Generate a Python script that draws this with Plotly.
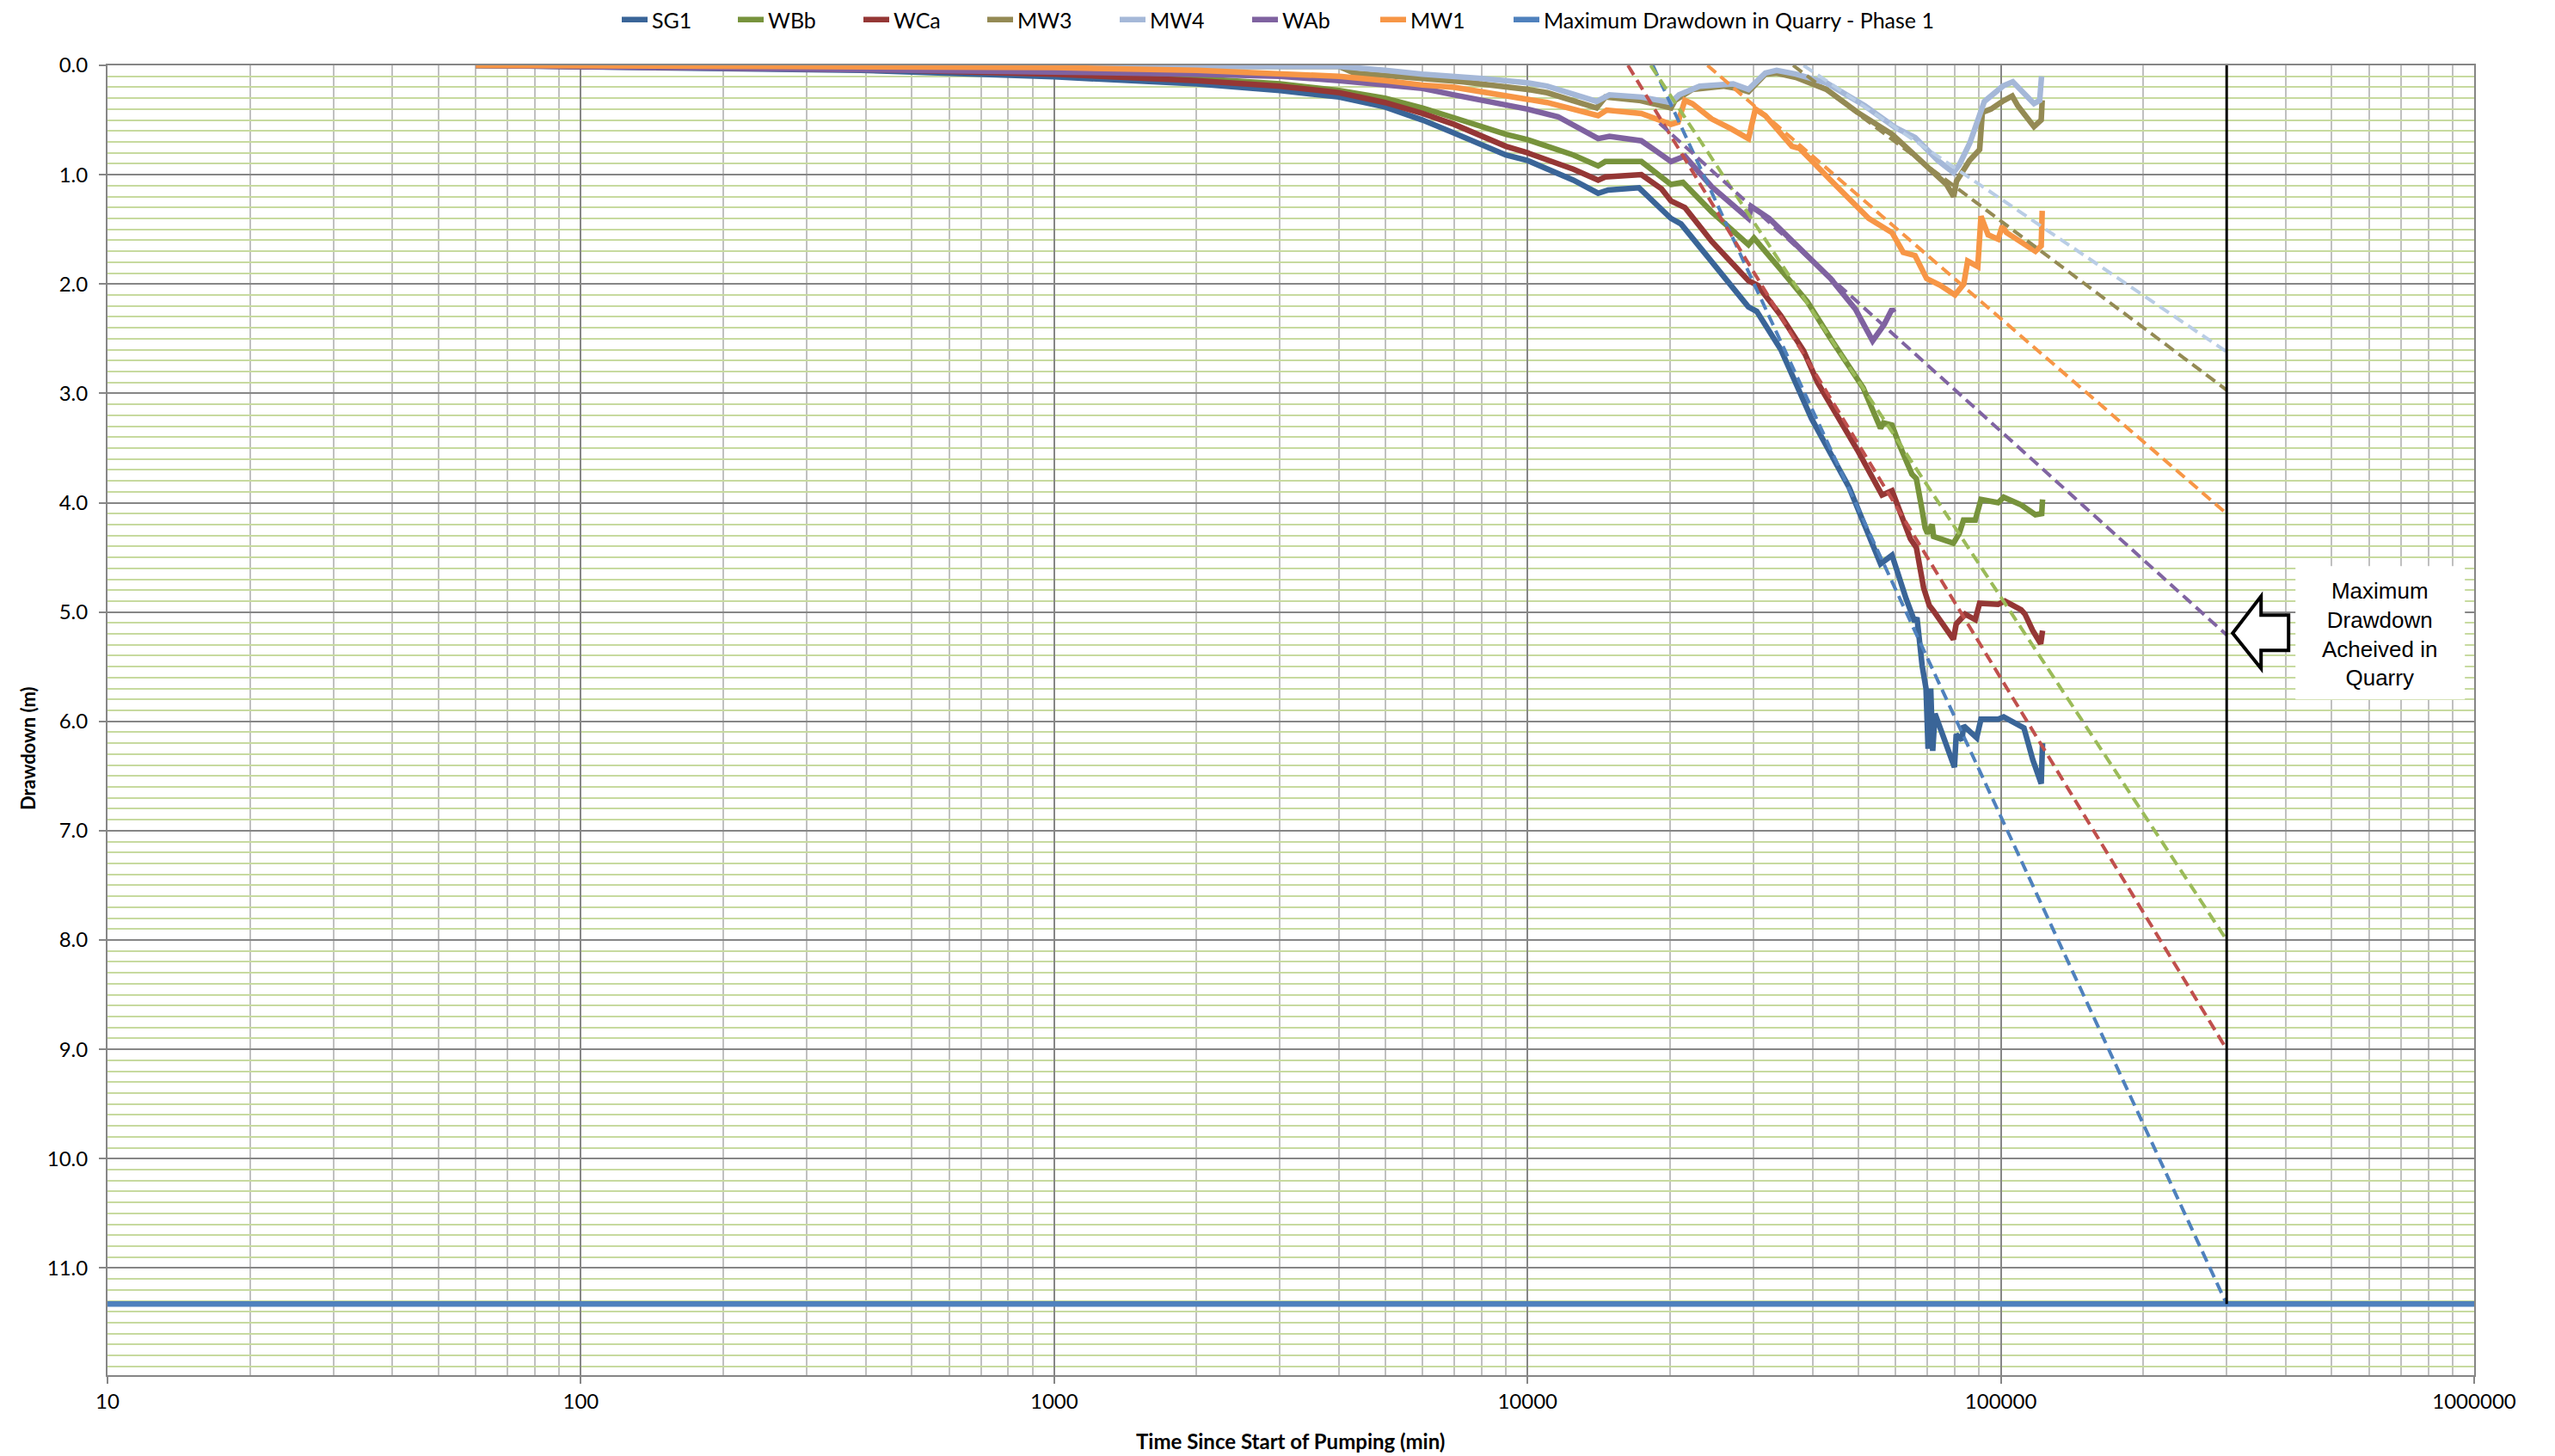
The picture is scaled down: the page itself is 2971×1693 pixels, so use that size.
import numpy as np
import plotly.graph_objects as go

# ---- Drawdown records: time since start of pumping (min) and drawdown (m) ----
SG1_T = [60, 100, 200, 390, 1000, 2000, 3000, 4000, 5000, 6000, 7000, 8000, 9000, 10000,
         11000, 12500, 14100, 14800, 17200, 20100, 21100, 24500, 29300, 30500, 34300, 39800,
         47800, 55700, 58900, 63100, 65800, 66500, 68200, 69500, 70200, 71100, 71800, 72600,
         79800, 80500, 82800, 83400, 88900, 90800, 98700, 101400, 111900, 116800, 121700, 122500]
SG1_D = [0.00, 0.01, 0.03, 0.045, 0.105, 0.17, 0.23, 0.29, 0.38, 0.50, 0.62, 0.73, 0.82, 0.87,
         0.95, 1.05, 1.17, 1.14, 1.12, 1.40, 1.45, 1.79, 2.21, 2.25, 2.60, 3.23,
         3.86, 4.56, 4.48, 4.88, 5.09, 5.05, 5.49, 5.70, 6.25, 5.70, 6.27, 5.93,
         6.42, 6.12, 6.17, 6.04, 6.15, 5.98, 5.98, 5.96, 6.06, 6.35, 6.57, 6.20]

WBB_T = [60, 100, 200, 390, 1000, 2000, 3000, 4000, 5000, 6000, 7000, 8000, 9000, 10000,
         11000, 12500, 14100, 14600, 17400, 20100, 21300, 24500, 29300, 30100, 34300, 39000,
         43700, 45800, 51200, 55700, 56500, 58900, 60900, 64900, 66300, 68200, 69200, 70000,
         71600, 72100, 79400, 81700, 83400, 88300, 90800, 98700, 101400, 110400, 118300,
         122000, 122500]
WBB_D = [0.00, 0.01, 0.02, 0.03, 0.07, 0.12, 0.17, 0.23, 0.30, 0.39, 0.48, 0.56, 0.63, 0.68,
         0.74, 0.82, 0.92, 0.88, 0.88, 1.09, 1.07, 1.34, 1.64, 1.58, 1.87, 2.16,
         2.50, 2.64, 2.95, 3.32, 3.27, 3.29, 3.46, 3.74, 3.78, 4.07, 4.23, 4.28,
         4.20, 4.31, 4.37, 4.28, 4.16, 4.16, 3.97, 4.00, 3.95, 4.02, 4.11,
         4.10, 3.97]

WCA_T = [60, 100, 200, 390, 1000, 2000, 3000, 4000, 5000, 6000, 7000, 8000, 9000, 10000,
         11000, 12500, 14100, 14600, 17400, 19200, 20100, 21500, 24500, 29300, 30600, 34300,
         38300, 41000, 49800, 54200, 56100, 58900, 60600, 64400, 66300, 68700, 70600, 72100,
         79400, 80500, 84100, 88300, 90200, 98700, 102000, 110400, 112500, 116800, 121400, 122500]
WCA_D = [0.00, 0.01, 0.02, 0.035, 0.08, 0.14, 0.19, 0.25, 0.34, 0.44, 0.54, 0.65, 0.74, 0.80,
         0.86, 0.95, 1.05, 1.02, 1.00, 1.13, 1.24, 1.30, 1.61, 1.97, 2.01, 2.29,
         2.61, 2.90, 3.52, 3.81, 3.93, 3.89, 4.04, 4.33, 4.41, 4.78, 4.94, 4.99,
         5.25, 5.11, 5.02, 5.07, 4.92, 4.93, 4.90, 4.98, 5.02, 5.17, 5.29, 5.17]

MW3_T = [60, 1000, 2000, 3000, 4000, 4300, 5000, 6000, 7270, 10000, 11000, 14000, 14600,
         17200, 20100, 20500, 22300, 25900, 27700, 29300, 31800, 33500, 36900, 42800, 49800,
         58900, 67700, 76800, 79500, 80600, 85900, 90200, 91400, 95300, 100700, 105700, 108600,
         114200, 117500, 121700, 122300]
MW3_D = [0.00, 0.00, 0.005, 0.01, 0.01, 0.07, 0.09, 0.115, 0.15, 0.22, 0.25, 0.39, 0.29,
         0.32, 0.39, 0.32, 0.22, 0.19, 0.21, 0.24, 0.08, 0.07, 0.11, 0.22, 0.43,
         0.63, 0.87, 1.09, 1.20, 1.06, 0.87, 0.77, 0.43, 0.40, 0.33, 0.28, 0.37,
         0.50, 0.56, 0.50, 0.32]

MW4_T = [60, 1000, 2000, 3000, 4000, 5000, 6000, 8000, 10000, 11000, 14000, 14900, 17400,
         20100, 20900, 23100, 27200, 29300, 31800, 33600, 36900, 42800, 51600, 59900, 65900,
         73600, 79400, 81700, 86000, 92300, 95300, 101000, 106000, 111000, 117500, 120800, 121900]
MW4_D = [0.00, 0.00, 0.00, 0.005, 0.01, 0.045, 0.08, 0.12, 0.16, 0.19, 0.33, 0.27, 0.29,
         0.34, 0.27, 0.19, 0.17, 0.22, 0.07, 0.045, 0.08, 0.16, 0.37, 0.57, 0.66,
         0.87, 0.98, 0.91, 0.71, 0.33, 0.28, 0.19, 0.15, 0.24, 0.35, 0.32, 0.10]

WAB_T = [60, 100, 200, 390, 1000, 2000, 3000, 4000, 5000, 6000, 7000, 8000, 9000, 10000,
         11600, 14100, 14900, 17400, 18500, 20100, 21500, 24500, 29300, 29700, 32400, 37600,
         43700, 49300, 53600, 56700, 58900, 59500]
WAB_D = [0.00, 0.01, 0.02, 0.03, 0.06, 0.08, 0.10, 0.14, 0.18, 0.21, 0.27, 0.32, 0.37, 0.40,
         0.47, 0.67, 0.65, 0.69, 0.77, 0.88, 0.83, 1.11, 1.40, 1.29, 1.40, 1.68,
         1.95, 2.23, 2.52, 2.37, 2.23, 2.26]

MW1_T = [60, 100, 200, 390, 1000, 2000, 3000, 4000, 5000, 6000, 7000, 8000, 9000, 11000,
         14100, 14700, 17400, 19200, 20100, 20800, 21500, 22300, 24500, 26900, 29300, 30300,
         31800, 36200, 37600, 43700, 52600, 58900, 62200, 65900, 69700, 74400, 80000, 83500,
         85100, 89400, 90800, 94000, 98700, 100700, 102800, 118300, 121700, 122300]
MW1_D = [0.00, 0.005, 0.01, 0.015, 0.02, 0.045, 0.07, 0.10, 0.14, 0.18, 0.20, 0.24, 0.28, 0.34,
         0.46, 0.41, 0.44, 0.50, 0.54, 0.52, 0.32, 0.35, 0.49, 0.58, 0.67, 0.40,
         0.46, 0.74, 0.76, 1.05, 1.40, 1.53, 1.71, 1.74, 1.95, 2.01, 2.10, 2.00,
         1.79, 1.84, 1.38, 1.55, 1.59, 1.47, 1.53, 1.70, 1.65, 1.33]

# ---- Straight-line (log time) projections out to the end of quarry phase 1 ----
PHASE1_TIME = 300000
QUARRY_MAX_DRAWDOWN = 11.33
TREND_WELLS = ["SG1", "WBb", "WCa", "MW3", "MW4", "WAb", "MW1"]
TREND_START_T = [18400, 18200, 16300, 36400, 38300, 19000, 24000]
TREND_START_D = [0.00, 0.00, 0.00, 0.00, 0.00, 0.53, 0.00]
TREND_END_D = [11.33, 8.00, 9.00, 2.97, 2.62, 5.21, 4.10]

# ---- Axis ticks ----
X_TICKS = [10, 100, 1000, 10000, 100000, 1000000]
X_TICK_TEXT = ["10", "100", "1000", "10000", "100000", "1000000"]
Y_TICKS = list(range(0, 12))
Y_MAX = 11.98

# name, times, drawdowns, colour, legend entry width (px)
SERIES = [
    ("SG1", SG1_T, SG1_D, "#3A6598", 90),
    ("WBb", WBB_T, WBB_D, "#77933C", 101),
    ("WCa", WCA_T, WCA_D, "#953735", 99),
    ("MW3", MW3_T, MW3_D, "#948A54", 109),
    ("MW4", MW4_T, MW4_D, "#A5B8D8", 109),
    ("WAb", WAB_T, WAB_D, "#7F62A0", 104),
    ("MW1", MW1_T, MW1_D, "#F79646", 110),
]
TREND_COLORS = {"SG1": "#4F81BD", "WBb": "#9BBB59", "WCa": "#C0504D", "MW3": "#948A54",
                "MW4": "#B9CDE5", "WAb": "#8064A2", "MW1": "#F79646"}

W, H = 2971, 1693
ML, MR, MT, MB = 125, 94, 76, 94
PW, PH = W - ML - MR, H - MT - MB

FONT = "Lato, 'Liberation Sans', sans-serif"
TICK_SIZE = 24

fig = go.Figure()

for name, t, d, color, lw in SERIES:
    fig.add_trace(go.Scatter(x=t, y=d, mode="lines", name=name, legendwidth=lw,
                             line=dict(color=color, width=6.5)))

for i, well in enumerate(TREND_WELLS):
    fig.add_trace(go.Scatter(x=[TREND_START_T[i], PHASE1_TIME],
                             y=[TREND_START_D[i], TREND_END_D[i]],
                             mode="lines", showlegend=False,
                             line=dict(color=TREND_COLORS[well], width=4, dash="13px,7px")))

fig.add_trace(go.Scatter(x=[X_TICKS[0], X_TICKS[-1]], y=[QUARRY_MAX_DRAWDOWN] * 2,
                         mode="lines", name="Maximum Drawdown in Quarry - Phase 1",
                         legendwidth=480,
                         line=dict(color="#4F81BD", width=6.5)))
fig.add_trace(go.Scatter(x=[PHASE1_TIME, PHASE1_TIME], y=[0, QUARRY_MAX_DRAWDOWN],
                         mode="lines", showlegend=False,
                         line=dict(color="black", width=3)))


def to_paper(t, d, dx_px=0.0, dy_px=0.0):
    """Data point (log time axis, reversed drawdown axis) plus a pixel offset -> paper coords."""
    px = (np.log10(t) - 1.0) / 5.0 + dx_px / PW
    py = 1.0 - d / Y_MAX - dy_px / PH
    return px, py


# Block arrow pointing at the projected drawdown where phase 1 ends
wab_end = TREND_END_D[TREND_WELLS.index("WAb")]
arrow_px = [(7, -2), (40, -45), (40, -23), (72, -23), (72, 18), (40, 18), (40, 39)]
pts = [to_paper(PHASE1_TIME, wab_end, dx, dy) for dx, dy in arrow_px]
path = "M " + " L ".join(f"{x:.5f},{y:.5f}" for x, y in pts) + " Z"

box_x0, box_y0 = to_paper(PHASE1_TIME, wab_end, 80, -80)
box_x1, box_y1 = to_paper(PHASE1_TIME, wab_end, 277, 75)
text_x, text_y = to_paper(PHASE1_TIME, wab_end, 178, -1)

fig.update_layout(
    width=W, height=H,
    margin=dict(l=ML, r=MR, t=MT, b=MB, autoexpand=False),
    paper_bgcolor="white", plot_bgcolor="white",
    font=dict(family=FONT, size=TICK_SIZE, color="black"),
    showlegend=True,
    legend=dict(orientation="h", x=(718 - ML) / PW, xanchor="left",
                y=1 + (MT - 23) / PH, yanchor="middle",
                font=dict(family=FONT, size=25, color="black"),
                bgcolor="rgba(0,0,0,0)", traceorder="normal"),
    xaxis=dict(type="log", range=[1, 6], tickvals=X_TICKS, ticktext=X_TICK_TEXT,
               showgrid=True, gridcolor="#868686", gridwidth=2,
               minor=dict(tickvals=[k * 10 ** e for e in range(1, 6) for k in range(2, 10)],
                          showgrid=True, gridcolor="#C0C0C0", gridwidth=2, ticks=""),
               ticks="outside", ticklen=8, tickwidth=2, tickcolor="#868686",
               showline=True, linecolor="#868686", linewidth=2, mirror=True,
               zeroline=False, ticklabelstandoff=0,
               tickfont=dict(family=FONT, size=TICK_SIZE, color="black")),
    yaxis=dict(range=[Y_MAX, 0], tickvals=Y_TICKS, tickformat=".1f",
               showgrid=True, gridcolor="#868686", gridwidth=2,
               minor=dict(dtick=0.1, tick0=0, showgrid=True, gridcolor="#C7DA9F",
                          gridwidth=2, ticks=""),
               ticks="outside", ticklen=8, tickwidth=2, tickcolor="#868686",
               showline=True, linecolor="#868686", linewidth=2, mirror=True,
               zeroline=False, ticklabelstandoff=8,
               tickfont=dict(family=FONT, size=TICK_SIZE, color="black")),
    shapes=[
        dict(type="rect", xref="paper", yref="paper", x0=box_x0, x1=box_x1,
             y0=box_y0, y1=box_y1, fillcolor="white", line=dict(width=0), layer="above"),
        dict(type="path", xref="paper", yref="paper", path=path,
             fillcolor="white", line=dict(color="black", width=4), layer="above"),
    ],
    annotations=[
        dict(text="Maximum<br>Drawdown<br>Acheived in<br>Quarry", xref="paper", yref="paper",
             x=text_x, y=text_y, xanchor="center", yanchor="middle", showarrow=False,
             align="center", font=dict(family="'Liberation Sans', Arial, sans-serif",
                                       size=26, color="black")),
        dict(text="<b>Drawdown (m)</b>", xref="paper", yref="paper",
             x=(32 - ML) / PW, y=1 - (870 - MT) / PH, textangle=-90,
             xanchor="center", yanchor="middle", showarrow=False,
             font=dict(family=FONT, size=22, color="black")),
        dict(text="<b>Time Since Start of Pumping (min)</b>", xref="paper", yref="paper",
             x=(1500 - ML) / PW, y=1 - (1675 - MT) / PH,
             xanchor="center", yanchor="middle", showarrow=False,
             font=dict(family=FONT, size=24, color="black")),
    ],
)

fig.write_html("out.html", config={"displayModeBar": False})
